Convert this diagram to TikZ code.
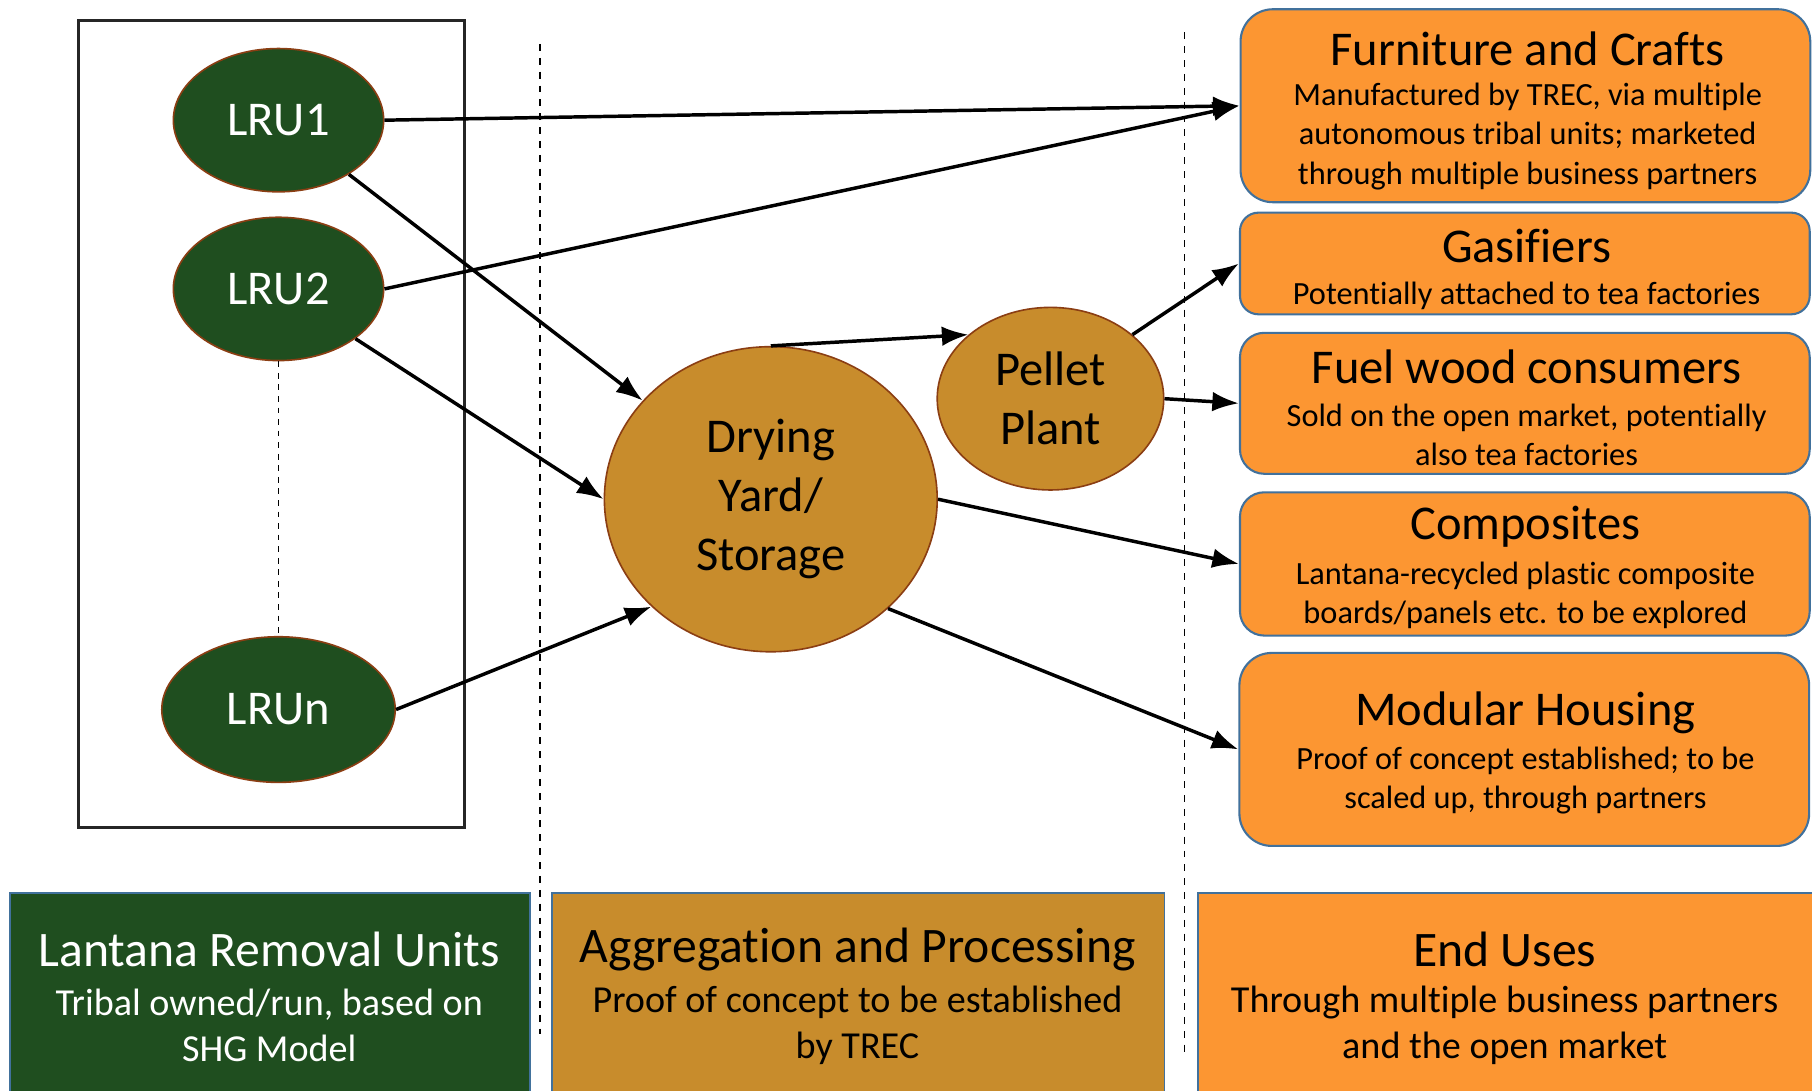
\documentclass[tikz,border=0pt]{standalone}
\usepackage{fontspec}
\setmainfont{Carlito}[Ligatures=NoCommon]
\usetikzlibrary{shapes.geometric,arrows.meta}

\definecolor{lruGreen}{HTML}{1F4E1F}
\definecolor{procTan}{HTML}{C88C2C}
\definecolor{useOrange}{HTML}{FC9632}
\definecolor{rimBrown}{HTML}{8B3E13}
\definecolor{rimBlue}{HTML}{41719C}
\definecolor{frameGray}{HTML}{262626}

\newcommand\lruFont{\fontsize{42}{51}\selectfont}
\newcommand\boxTitle{\fontsize{42}{51}\selectfont}
\newcommand\boxBody{\fontsize{28}{34}\selectfont}
\newcommand\bandTitle{\fontsize{43}{49}\selectfont}
\newcommand\bandBody{\fontsize{33}{40}\selectfont}

\begin{document}
\begin{tikzpicture}[x=1pt,y=-1pt,
  lru/.style={ellipse,fill=lruGreen,draw=rimBrown,line width=1.4pt,inner sep=0pt,
    text=white,font=\lruFont},
  proc/.style={ellipse,fill=procTan,draw=rimBrown,line width=1.4pt,inner sep=0pt,
    align=center,font=\lruFont},
  enduse/.style={rectangle,fill=useOrange,draw=rimBlue,line width=1.8pt,inner sep=0pt,
    minimum width=493pt},
  boxtitle/.style={inner sep=0pt,font=\boxTitle},
  boxbody/.style={inner sep=0pt,font=\boxBody,align=center},
  band/.style={rectangle,draw=rimBlue,line width=1.5pt,inner sep=0pt,anchor=north west},
  bandtitle/.style={inner sep=0pt,font=\bandTitle},
  bandbody/.style={inner sep=0pt,font=\bandBody,align=center},
  flow/.style={line width=3pt,-{Latex[length=23pt,width=17pt]}},
  sepline/.style={line width=1.6pt,dash pattern=on 6pt off 6pt},
]
\clip (0,0) rectangle (1568,944);
\fill[white] (0,0) rectangle (1568,944);

% frame around the removal units
\node[draw=frameGray,line width=2.6pt,minimum width=334pt,minimum height=698pt,inner sep=0pt]
  (lruframe) at (235,367) {};

% column separators
\draw[sepline] (467,38) -- (467,895);
\draw[sepline] (1025,28) -- (1025,910);

% removal units
\node[lru,minimum width=182pt,minimum height=124pt] (lru1) at (241,104) {LRU1};
\node[lru,minimum width=182pt,minimum height=124pt] (lru2) at (241,250) {LRU2};
\node[lru,minimum width=202pt,minimum height=126pt] (lrun) at (241,614) {LRUn};
\draw[line width=1.5pt,dash pattern=on 5pt off 5pt] (lru2.south) -- (lrun.north);

% aggregation and processing
\node[proc,minimum width=288pt,minimum height=264pt] (dry) at (667,432) {Drying\\Yard/\\Storage};
\node[proc,minimum width=196pt,minimum height=158pt] (pel) at (909,345) {Pellet\\Plant};

% end uses
\node[enduse,rounded corners=28pt,minimum height=167pt] (furn) at (1320,91.5) {};
\node[boxtitle] (furnT) at (1322,42) {Furniture and Crafts};
\node[boxbody] (furnB) at (1322,118) {Manufactured by TREC, via multiple\\autonomous tribal units; marketed\\through multiple business partners};

\node[enduse,rounded corners=16pt,minimum height=88pt] (gas) at (1319.5,228) {};
\node[boxtitle] (gasT) at (1321,213) {Gasifiers};
\node[boxbody] (gasB) at (1321,256) {Potentially attached to tea factories};

\node[enduse,rounded corners=21pt,minimum height=122pt] (fuel) at (1319.5,349) {};
\node[boxtitle] (fuelT) at (1321,317) {Fuel wood consumers};
\node[boxbody] (fuelB) at (1321,376.5) {Sold on the open market, potentially\\also tea factories};

\node[enduse,rounded corners=21pt,minimum height=124pt] (comp) at (1319.5,488) {};
\node[boxtitle] (compT) at (1320,456) {Composites};
\node[boxbody] (compB) at (1320,515) {Lantana-recycled plastic composite\\boards/panels etc. to be explored};

\node[enduse,rounded corners=28pt,minimum height=167pt] (mod) at (1319,648.5) {};
\node[boxtitle] (modT) at (1320,617) {Modular Housing};
\node[boxbody] (modB) at (1320,675.5) {Proof of concept established; to be\\scaled up, through partners};

% flows
\draw[flow] (lru1.east) -- (furn.west);
\draw[flow] (lru2.east) -- (furn.west);
\draw[flow] (lru1) -- (dry);
\draw[flow] (lru2) -- (dry.west);
\draw[flow] (lrun.east) -- (dry.222);
\draw[flow] (dry.north) -- (pel.142);
\draw[flow] (pel.38.6) -- (gas.west);
\draw[flow] (pel.east) -- (fuel.west);
\draw[flow] (dry.east) -- (comp.west);
\draw[flow] (dry.317.7) -- (mod.west);

% stage bands
\node[band,fill=lruGreen,minimum width=450pt,minimum height=190pt] (bandL) at (8,772) {};
\node[bandtitle,text=white] (bandLT) at (233,822) {Lantana Removal Units};
\node[bandbody,text=white] (bandLB) at (233,887) {Tribal owned/run, based on\\SHG Model};

\node[band,fill=procTan,minimum width=530pt,minimum height=190pt] (bandM) at (477,772) {};
\node[bandtitle] (bandMT) at (742,822) {Aggregation and Processing};
\node[bandbody] (bandMB) at (742,887) {Proof of concept to be established\\by TREC};

\node[band,fill=useOrange,minimum width=540pt,minimum height=190pt] (bandR) at (1036,772) {};
\node[bandtitle] (bandRT) at (1302,822) {End Uses};
\node[bandbody] (bandRB) at (1302,887) {Through multiple business partners\\and the open market};
\end{tikzpicture}
\end{document}
